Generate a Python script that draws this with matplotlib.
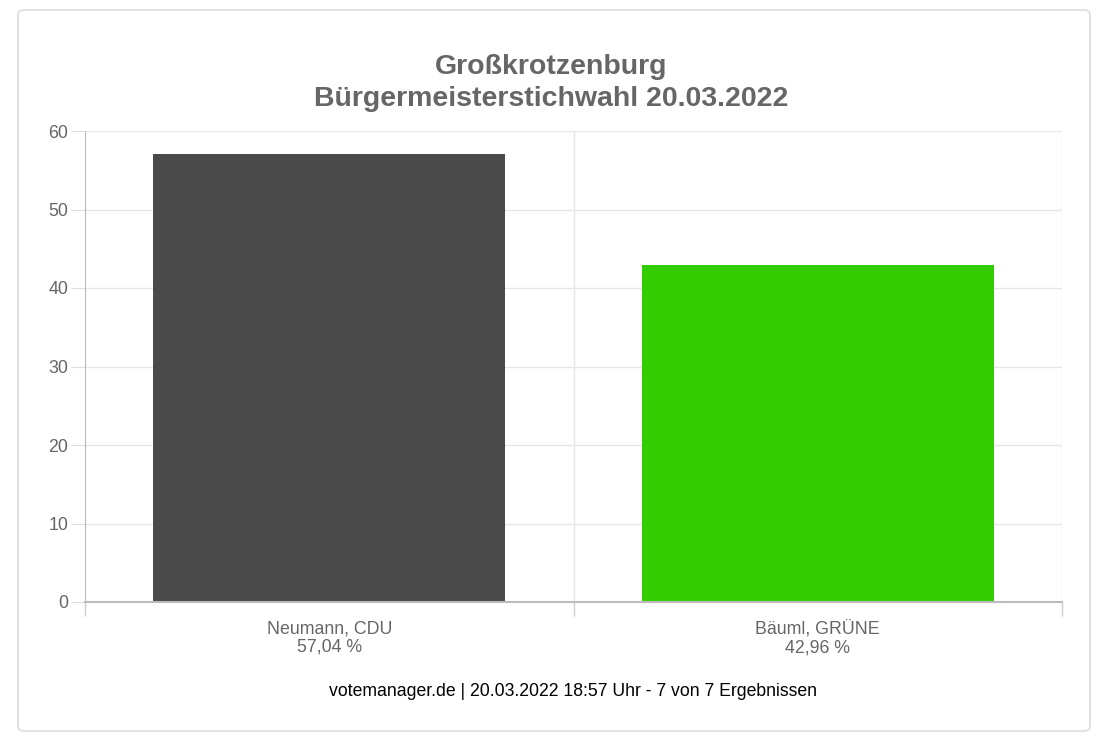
import matplotlib
matplotlib.use("Agg")
import matplotlib.pyplot as plt
from matplotlib.patches import FancyBboxPatch

plt.rcParams['font.family'] = ['Liberation Sans', 'DejaVu Sans']

candidates = ["Neumann, CDU", "Bäuml, GRÜNE"]
values = [57.04, 42.96]
value_labels = ["57,04 %", "42,96 %"]
colors = ["#4a4a4a", "#33cc00"]
title = "Großkrotzenburg\nBürgermeisterstichwahl 20.03.2022"
footer = "votemanager.de | 20.03.2022 18:57 Uhr - 7 von 7 Ergebnissen"
yticks = [0, 10, 20, 30, 40, 50, 60]

W, H = 1100, 743
fig = plt.figure(figsize=(W / 100, H / 100), dpi=100)
fig.patch.set_facecolor("white")

# rounded border
border = FancyBboxPatch((18 / W, (H - 731) / H), (1090 - 18) / W, (731 - 10) / H,
                        boxstyle="round,pad=0,rounding_size=0.006",
                        transform=fig.transFigure, fill=False,
                        edgecolor="#dddddd", linewidth=1.2)
fig.patches.append(border)

ax = fig.add_axes([85 / W, (H - 602) / H, (1062 - 85) / W, (602 - 131) / H])
x = list(range(len(candidates)))
ax.bar(x, values, width=0.72, color=colors, zorder=2)
ax.set_xlim(-0.5, len(candidates) - 0.5)
ax.set_ylim(0, 60)
ax.set_yticks(yticks)
ax.set_yticklabels([str(t) for t in yticks], fontsize=12.8, color="#666666")
ax.tick_params(axis="y", length=10, color="#dddddd", pad=2)
ax.grid(axis="y", color="#e6e6e6", linewidth=1, zorder=0)

# category boundaries as vertical gridlines
ax.set_xticks([i - 0.5 for i in range(len(candidates) + 1)], minor=False)
ax.set_xticklabels([""] * (len(candidates) + 1))
ax.tick_params(axis="x", length=10, color="#cccccc", width=1)
ax.grid(axis="x", color="#e6e6e6", linewidth=1, zorder=0)
ax.set_xticks(x, minor=True)
ax.set_xticklabels([f"{c}\n{v}" for c, v in zip(candidates, value_labels)],
                   minor=True, fontsize=12.8, color="#666666", linespacing=1.12)
ax.tick_params(axis="x", which="minor", length=0, pad=13)

for s in ["top", "right"]:
    ax.spines[s].set_visible(False)
ax.spines["left"].set_color("#bbbbbb")
ax.spines["bottom"].set_color("#bbbbbb")
ax.spines["bottom"].set_linewidth(1.5)

fig.text(551 / W, 1 - 83 / H, title, ha="center", va="center", fontsize=20.5,
         fontweight="bold", color="#666666", linespacing=1.27)
fig.text(573 / W, 1 - 692 / H, footer, ha="center", va="center", fontsize=12.7,
         color="#000000")

fig.savefig("out.png", dpi=100, facecolor="white")
